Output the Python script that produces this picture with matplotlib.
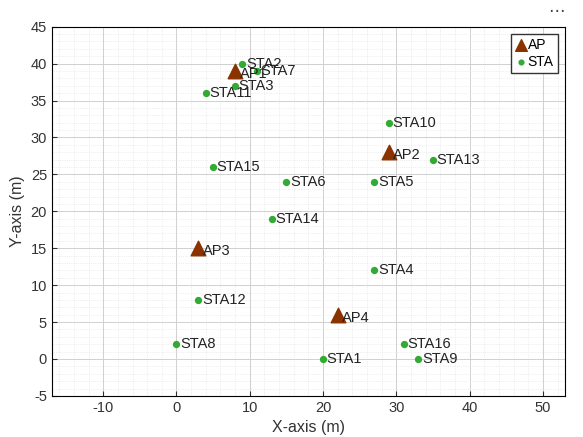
import matplotlib.pyplot as plt
import numpy as np

plt.rcParams["font.family"] = ["Liberation Sans", "DejaVu Sans"]
plt.rcParams["axes.unicode_minus"] = False

ap_names = ["AP1", "AP2", "AP3", "AP4"]
ap_x = [8, 29, 3, 22]
ap_y = [39, 28, 15, 6]

sta_names = [f"STA{i}" for i in range(1, 17)]
sta_x = [20, 9, 8, 27, 27, 15, 11, 0, 33, 29, 4, 3, 35, 13, 5, 31]
sta_y = [0, 40, 37, 12, 24, 24, 39, 2, 0, 32, 36, 8, 27, 19, 26, 2]

fig = plt.figure(figsize=(5.83, 4.37), dpi=100)
ax = fig.add_axes([0.089, 0.094, 0.88, 0.845])
ax.scatter(ap_x, ap_y, marker="^", s=110, color="#8B3300", label="AP", zorder=3)
ax.scatter(sta_x, sta_y, marker="o", s=18, color="#33AA33", label="STA", zorder=3)
for n, x, y in zip(ap_names, ap_x, ap_y):
    ax.text(x + 0.6, y - 0.4, n, fontsize=10.5, va="center", color="#222222")
for n, x, y in zip(sta_names, sta_x, sta_y):
    ax.text(x + 0.5, y, n, fontsize=10.5, va="center", color="#222222")

ax.set_xlim(-17, 53)
ax.set_ylim(-5, 45)
ax.set_xticks(np.arange(-10, 51, 10))
ax.set_yticks(np.arange(-5, 46, 5))
ax.set_xticks(np.arange(-16, 53, 2), minor=True)
ax.set_yticks(np.arange(-5, 46, 1), minor=True)
ax.grid(which="major", color="#d0d0d0", lw=0.7)
ax.grid(which="minor", color="#e0e0e0", lw=0.5, ls=":")
ax.tick_params(which="both", direction="in", labelsize=10.5, colors="#333333")
ax.tick_params(which="minor", length=0)
ax.set_xlabel("X-axis (m)", fontsize=11.5, color="#333333")
ax.set_ylabel("Y-axis (m)", fontsize=11.5, color="#333333")
leg = ax.legend(loc="upper right", fontsize=10, handletextpad=0.1, borderpad=0.3,
                fancybox=False, edgecolor="#333333", handlelength=0.8,
                markerscale=0.8, labelspacing=0.2, framealpha=1)
fig.text(0.955, 0.975, "\u22ef", fontsize=12, ha="center", va="center",
         color="#444444", family="DejaVu Sans")
fig.savefig("out.png", dpi=100)
